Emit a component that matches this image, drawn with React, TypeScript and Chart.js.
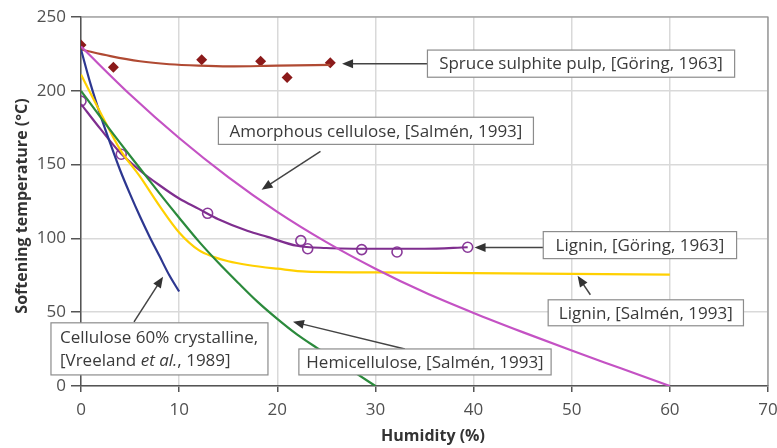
import React, { useEffect, useRef } from 'react';
import { Chart, registerables } from 'chart.js';

Chart.register(...registerables);

// ---- axis ranges / ticks ----
const xMin = 0;
const xMax = 70;
const xStep = 10;
const yMin = 0;
const yMax = 250;
const yStep = 50;

// ---- Spruce sulphite pulp, [Göring, 1963] ----
const spruceX = [0, 3.3, 12.3, 18.3, 21.0, 25.4];
const spruceY = [231, 216, 221, 220, 209, 219];
const spruceFitX = [0, 3, 6, 9, 12, 15, 20, 25.4];
const spruceFitY = [228, 223.5, 220, 218, 217, 216.5, 217, 217.5];

// ---- Amorphous cellulose, [Salmén, 1993] ----
const amorphX = [0, 5, 10, 15, 20, 25, 30, 35, 40, 45, 50, 55, 60];
const amorphY = [230, 197.5, 168, 141.5, 118, 97.5, 79.5, 63.5, 49.5, 36.5, 24, 12, 0];

// ---- Cellulose 60% crystalline, [Vreeland et al., 1989] ----
const crystX = [0, 1, 2, 3, 4, 5, 6, 7, 8, 9, 10];
const crystY = [228, 204, 183, 164, 146, 130, 115, 101, 88, 75, 64];

// ---- Lignin, [Salmén, 1993] ----
const ligSalX = [0, 2, 4, 6, 8, 10, 12, 13.5, 15, 17, 20, 23, 30, 40, 50, 60];
const ligSalY = [211, 185, 160, 142, 122, 104, 92, 87.5, 84.5, 82, 79.5, 77.5, 77, 76.5, 76, 75.5];

// ---- Hemicellulose, [Salmén, 1993] ----
const hemiX = [0, 2, 4, 6, 8, 10, 12, 14, 16, 18, 20, 22, 24, 26, 28, 30];
const hemiY = [200, 182, 164.5, 147.5, 130.5, 114, 98, 83.5, 70, 57, 45.5, 35, 26, 17.5, 8.7, 0];

// ---- Lignin, [Göring, 1963] ----
const ligGorX = [0, 4.1, 12.9, 22.4, 23.1, 28.6, 32.2, 39.4];
const ligGorY = [193, 157, 117, 98.5, 93, 92.4, 90.8, 94];
const ligGorFitX = [0, 2, 4, 6, 8, 10, 12, 14, 17, 19, 22, 25, 30, 35, 39.4];
const ligGorFitY = [191, 174, 158, 146, 136, 127, 120, 113, 105, 101, 95, 93.5, 93, 93, 94];

const zip = (xs: number[], ys: number[]) => xs.map((x, i) => ({ x, y: ys[i] }));

type Seg = { t: string; italic?: boolean };
type Note = {
  lines: Seg[][];
  x0: number;
  x1: number;
  yTop: number;
  yBot: number;
  arrow: [number, number, number, number];
};

// annotation boxes, in data units
const notes: Note[] = [
  {
    lines: [[{ t: 'Spruce sulphite pulp, [Göring, 1963]' }]],
    x0: 35.3, x1: 66.6, yTop: 227.6, yBot: 209.2,
    arrow: [35.3, 218.4, 26.6, 218.4],
  },
  {
    lines: [[{ t: 'Amorphous cellulose, [Salmén, 1993]' }]],
    x0: 14.0, x1: 46.1, yTop: 182.1, yBot: 163.7,
    arrow: [24.4, 159, 18.4, 133],
  },
  {
    lines: [[{ t: 'Lignin, [Göring, 1963]' }]],
    x0: 47.1, x1: 66.8, yTop: 104.6, yBot: 86.3,
    arrow: [47.1, 93.8, 40.1, 93.8],
  },
  {
    lines: [[{ t: 'Lignin, [Salmén, 1993]' }]],
    x0: 47.6, x1: 67.5, yTop: 58.4, yBot: 40.8,
    arrow: [51.9, 61.8, 50.6, 74.7],
  },
  {
    lines: [[{ t: 'Hemicellulose, [Salmén, 1993]' }]],
    x0: 22.2, x1: 47.9, yTop: 25.1, yBot: 7.5,
    arrow: [33.0, 25.1, 21.6, 43.5],
  },
  {
    lines: [
      [{ t: 'Cellulose 60% crystalline,' }],
      [{ t: '[Vreeland ' }, { t: 'et al.', italic: true }, { t: ', 1989]' }],
    ],
    x0: -3.06, x1: 19.05, yTop: 42.8, yBot: 7.5,
    arrow: [5.4, 43.5, 8.36, 74],
  },
];

const FONT = '"Open Sans", "Noto Sans", sans-serif';

const overlayPlugin = {
  id: 'overlay',
  afterDatasetsDraw(chart: any) {
    const ctx = chart.ctx as CanvasRenderingContext2D;
    const xs = chart.scales.x;
    const ys = chart.scales.y;
    const area = chart.chartArea;
    ctx.save();
    // frame top/right
    ctx.strokeStyle = '#8a8a8a';
    ctx.lineWidth = 1.2;
    ctx.beginPath();
    ctx.moveTo(area.left, area.top);
    ctx.lineTo(area.right, area.top);
    ctx.lineTo(area.right, area.bottom);
    ctx.stroke();

    for (const n of notes) {
      // arrow
      const ax0 = xs.getPixelForValue(n.arrow[0]);
      const ay0 = ys.getPixelForValue(n.arrow[1]);
      const ax1 = xs.getPixelForValue(n.arrow[2]);
      const ay1 = ys.getPixelForValue(n.arrow[3]);
      const ang = Math.atan2(ay1 - ay0, ax1 - ax0);
      const hl = 11;
      const hw = 4.5;
      ctx.strokeStyle = '#444';
      ctx.fillStyle = '#333';
      ctx.lineWidth = 1.5;
      ctx.beginPath();
      ctx.moveTo(ax0, ay0);
      ctx.lineTo(ax1 - Math.cos(ang) * hl * 0.8, ay1 - Math.sin(ang) * hl * 0.8);
      ctx.stroke();
      ctx.beginPath();
      ctx.moveTo(ax1, ay1);
      ctx.lineTo(
        ax1 - Math.cos(ang) * hl - Math.sin(ang) * hw,
        ay1 - Math.sin(ang) * hl + Math.cos(ang) * hw,
      );
      ctx.lineTo(
        ax1 - Math.cos(ang) * hl + Math.sin(ang) * hw,
        ay1 - Math.sin(ang) * hl - Math.cos(ang) * hw,
      );
      ctx.closePath();
      ctx.fill();

      // box
      const bx0 = xs.getPixelForValue(n.x0);
      const bx1 = xs.getPixelForValue(n.x1);
      const by0 = ys.getPixelForValue(n.yTop);
      const by1 = ys.getPixelForValue(n.yBot);
      ctx.fillStyle = '#ffffff';
      ctx.fillRect(bx0, by0, bx1 - bx0, by1 - by0);
      ctx.strokeStyle = '#8c8c8c';
      ctx.lineWidth = 1.2;
      ctx.strokeRect(bx0, by0, bx1 - bx0, by1 - by0);

      // text
      const lh = 23;
      const cy = (by0 + by1) / 2;
      ctx.fillStyle = '#3a3a3a';
      ctx.textBaseline = 'middle';
      ctx.textAlign = 'left';
      n.lines.forEach((line, li) => {
        const fontOf = (s: Seg) => `${s.italic ? 'italic ' : ''}17px ${FONT}`;
        let w = 0;
        for (const s of line) {
          ctx.font = fontOf(s);
          w += ctx.measureText(s.t).width;
        }
        let x = n.lines.length > 1 ? bx0 + 9 : (bx0 + bx1) / 2 - w / 2;
        const y = cy + (li - (n.lines.length - 1) / 2) * lh + 1;
        for (const s of line) {
          ctx.font = fontOf(s);
          ctx.fillText(s.t, x, y);
          x += ctx.measureText(s.t).width;
        }
      });
    }

    // axis titles
    ctx.fillStyle = '#333';
    ctx.font = `bold 16px ${FONT}`;
    ctx.textAlign = 'center';
    ctx.textBaseline = 'middle';
    ctx.fillText('Humidity (%)', 433, 436);
    ctx.translate(22, 206);
    ctx.rotate(-Math.PI / 2);
    ctx.fillText('Softening temperature (°C)', 0, 0);
    ctx.restore();
  },
};

export default function App() {
  const ref = useRef<HTMLCanvasElement | null>(null);
  useEffect(() => {
    if (!ref.current) return;
    const lineDs = (label: string, xs: number[], ys: number[], color: string) => ({
      type: 'line' as const,
      label,
      data: zip(xs, ys),
      borderColor: color,
      backgroundColor: color,
      borderWidth: 2.2,
      pointRadius: 0,
      cubicInterpolationMode: 'monotone' as const,
      fill: false,
    });
    const chart = new Chart(ref.current, {
      type: 'line',
      data: {
        datasets: [
          lineDs('Amorphous cellulose', amorphX, amorphY, '#c452c4'),
          lineDs('Hemicellulose', hemiX, hemiY, '#2b8a3c'),
          lineDs('Lignin Salmén', ligSalX, ligSalY, '#ffd000'),
          lineDs('Cellulose 60% crystalline', crystX, crystY, '#2d3790'),
          lineDs('Lignin Göring fit', ligGorFitX, ligGorFitY, '#7f2e8f'),
          lineDs('Spruce fit', spruceFitX, spruceFitY, '#b04a33'),
          {
            type: 'line' as const,
            label: 'Lignin Göring',
            data: zip(ligGorX, ligGorY),
            showLine: false,
            pointStyle: 'circle',
            pointRadius: 5,
            pointBorderWidth: 1.6,
            pointBorderColor: '#8a3a9a',
            pointBackgroundColor: 'rgba(255,255,255,0)',
          },
          {
            type: 'line' as const,
            label: 'Spruce sulphite pulp',
            data: zip(spruceX, spruceY),
            showLine: false,
            pointStyle: 'rectRot',
            pointRadius: 5.5,
            pointBorderWidth: 0,
            pointBorderColor: '#8b1a1a',
            pointBackgroundColor: '#8b1a1a',
          },
        ],
      },
      options: {
        responsive: false,
        animation: false,
        layout: { padding: { top: 17, right: 9, left: 0, bottom: 0 } },
        plugins: {
          legend: { display: false },
          tooltip: { enabled: false },
        },
        scales: {
          x: {
            type: 'linear',
            min: xMin,
            max: xMax,
            afterFit: (s: any) => {
              s.height = 62;
              s.paddingRight = 0;
              s.paddingLeft = 0;
            },
            ticks: {
              stepSize: xStep,
              color: '#505050',
              font: { family: FONT, size: 17 },
              padding: 8,
            },
            grid: {
              color: '#d9d9d9',
              lineWidth: 1.5,
              tickColor: '#555',
              tickLength: 6,
            },
            border: { color: '#555', width: 1.5 },
          },
          y: {
            type: 'linear',
            min: yMin,
            max: yMax,
            afterFit: (s: any) => {
              s.width = 81;
            },
            ticks: {
              stepSize: yStep,
              color: '#505050',
              font: { family: FONT, size: 17 },
              padding: 5,
            },
            grid: {
              color: '#d9d9d9',
              lineWidth: 1.5,
              tickColor: '#555',
              tickLength: 10,
            },
            border: { color: '#555', width: 1.5 },
          },
        },
      },
      plugins: [overlayPlugin],
    });
    return () => chart.destroy();
  }, []);
  return (
    <div style={{ position: 'fixed', left: 0, top: 0, width: 777, height: 448, background: '#fff' }}>
      <canvas ref={ref} width={777} height={448} />
    </div>
  );
}
